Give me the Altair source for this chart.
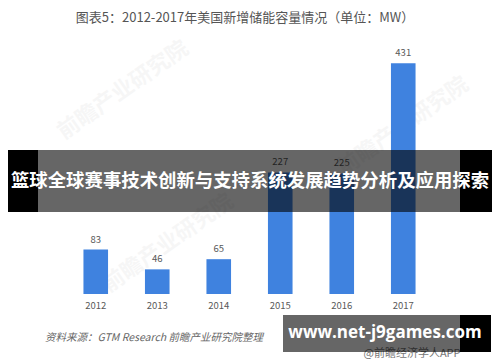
import altair as alt
import pandas as pd

years = ["2012", "2013", "2014", "2015", "2016", "2017"]
values = [83, 46, 65, 227, 225, 431]
title_text = "图表5：2012-2017年美国新增储能容量情况（单位：MW）"
source_text = "资料来源：GTM Research 前瞻产业研究院整理"
banner_text = "篮球全球赛事技术创新与支持系统发展趋势分析及应用探索"
site_text = "www.net-j9games.com"
app_text = "@前瞻经济学人APP"
watermark_text = "前瞻产业研究院"

df = pd.DataFrame({"year": years, "value": values})

FONT = "Noto Sans CJK SC"
BAR = "#3f82df"
GRAY = "#595959"

x_enc = alt.X(
    "year:N",
    sort=years,
    scale=alt.Scale(range=[57, 426], paddingInner=0.6, paddingOuter=0.3),
    axis=alt.Axis(title=None, ticks=False, domain=False, grid=False,
                  labelAngle=0, labelPadding=6, labelFontSize=9.5,
                  labelColor=GRAY, labelFont=FONT),
)
y_enc = alt.Y("value:Q", scale=alt.Scale(domain=[0, 534], nice=False), axis=None)

bars = alt.Chart(df).mark_bar(color=BAR).encode(x=x_enc, y=y_enc)
labels = alt.Chart(df).mark_text(
    baseline="bottom", dy=-5, fontSize=9.5, color=GRAY, font=FONT
).encode(x=x_enc, y=y_enc, text="value:Q")


def one(text):
    return pd.DataFrame({"t": [text]})


def txt(text, x, y, **kw):
    return alt.Chart(one(text)).mark_text(**kw).encode(
        text="t:N", x=alt.value(x), y=alt.value(y))


def box(x, x2, y, y2, color, opacity=1.0):
    return alt.Chart(one("r")).mark_rect(color=color, opacity=opacity).encode(
        x=alt.value(x), x2=alt.value(x2), y=alt.value(y), y2=alt.value(y2))


title = txt(title_text, 237, 10, fontSize=13, color="#555555", font=FONT,
            align="center", baseline="middle")

wm_kw = dict(fontSize=22, color="#000000", opacity=0.03, font=FONT,
             fontWeight="bold", angle=325, align="center", baseline="middle")
wm1 = txt(watermark_text, 115, 82, **wm_kw)
wm2 = txt(watermark_text, 395, 118, **wm_kw)
wm3 = txt(watermark_text, 160, 235, **wm_kw)

source = txt(source_text, 37, 330, fontSize=10.5, color="#666666", font=FONT,
             fontStyle="italic", align="left", baseline="middle")
app = txt(app_text, 404, 346, fontSize=11, color="#777777", font=FONT,
          align="center", baseline="middle")

banner_bg = box(0, 484, 142, 204, "#000000", 0.6)
banner_l = box(0, 30, 142, 204, "#000000")
banner_r = box(452, 484, 142, 204, "#000000")
banner = txt(banner_text, 242, 173, fontSize=18.4, color="#ffffff", font=FONT,
             fontWeight="bold", align="center", baseline="middle")

site_bg = box(275, 452, 307, 344, "#000000", 0.6)
site_r = box(452, 483, 307, 344, "#000000")
site = txt(site_text, 377, 325, fontSize=17, color="#ffffff", font="Open Sans",
           fontWeight="bold", align="center", baseline="middle")

chart = alt.layer(
    wm1, wm2, wm3, bars, labels, title, source, app,
    banner_bg, banner_l, banner_r, banner,
    site_bg, site_r, site,
).properties(
    width=484, height=286,
    autosize=alt.AutoSizeParams(type="none"),
    padding={"left": 0, "top": 0, "right": 0, "bottom": 68},
    background="white",
).configure_view(stroke=None)

chart.save("out.html", embed_options={"renderer": "svg", "actions": False})
